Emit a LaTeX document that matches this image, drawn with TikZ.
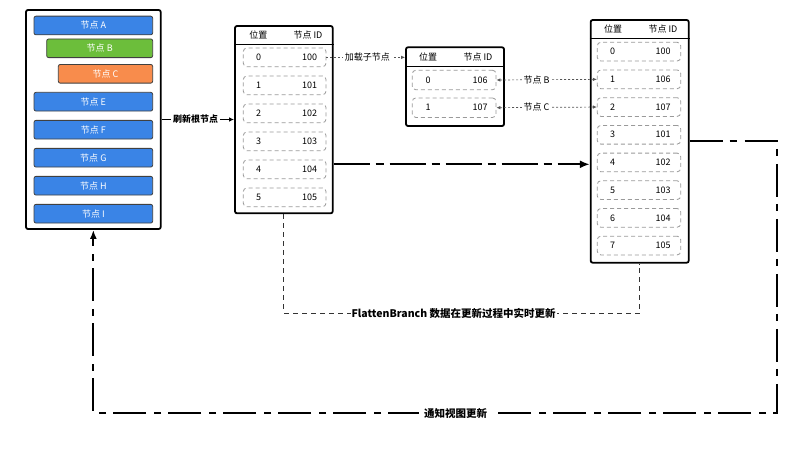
\documentclass[tikz,border=0pt]{standalone}
\usepackage{fontspec}
\setmainfont{Noto Sans CJK SC}
\usetikzlibrary{arrows.meta}
\definecolor{barblue}{HTML}{3A84E6}
\definecolor{bargreen}{HTML}{6CBE3B}
\definecolor{barorange}{HTML}{F88C4C}
\definecolor{rowgrey}{HTML}{9A9A9A}
\definecolor{linegrey}{HTML}{555555}
\begin{document}
\begin{tikzpicture}[x=1pt,y=-1pt,
  bar/.style={draw=black!75, line width=0.8pt, rounded corners=2pt, text=white,
    minimum height=18.7pt, inner sep=0pt, font=\fontsize{9}{10}\selectfont},
  holder/.style={draw=black, line width=1.8pt, rounded corners=2pt, fill=white, inner sep=0pt},
  tablebox/.style={draw=black, line width=1.8pt, rounded corners=2pt, fill=white, inner sep=0pt},
  hdrline/.style={draw=black, line width=1.4pt},
  hdrtxt/.style={inner sep=0pt, font=\fontsize{9}{10}\selectfont},
  rowbox/.style={draw=rowgrey, line width=0.8pt, dash pattern=on 4pt off 3pt,
    rounded corners=3.5pt, minimum height=18.7pt, inner sep=0pt},
  cell/.style={inner sep=0pt, font=\fontsize{9}{10}\selectfont},
  lbl/.style={fill=white, inner sep=2pt, font=\fontsize{9}{10}\selectfont},
  solidarrow/.style={draw=black, line width=1pt, -{Latex[length=5pt,width=4.5pt]}},
  dotarrow/.style={draw=linegrey, line width=0.7pt, dash pattern=on 2pt off 2pt,
    -{Latex[length=4pt,width=3.5pt]}},
  dotboth/.style={draw=linegrey, line width=0.7pt, dash pattern=on 2pt off 2pt,
    {Latex[length=4pt,width=3.5pt]}-{Latex[length=4pt,width=3.5pt]}},
  bigdash/.style={draw=black, line width=2pt, dash pattern=on 36pt off 6pt on 8pt off 6pt,
    -{Latex[length=10pt,width=8pt]}},
  flatline/.style={draw=black!80, line width=0.9pt, dash pattern=on 5pt off 4pt},
  notify/.style={draw=black, line width=1.8pt, dash pattern=on 33pt off 7pt on 7pt off 8pt,
    -{Latex[length=9pt,width=7pt]}}
]
\useasboundingbox (0,0) rectangle (809,452);

% left container with bars
\node[holder, minimum width=134.7pt, minimum height=219pt] (cont) at (93.35,119.5) {};
\node[bar, fill=barblue,   minimum width=118.7pt] (nA) at (93.35,25.5)  {节点 A};
\node[bar, fill=bargreen,  minimum width=106pt]   (nB) at (99.7,48.3)   {节点 B};
\node[bar, fill=barorange, minimum width=94.4pt]  (nC) at (105.5,73.8)  {节点 C};
\node[bar, fill=barblue,   minimum width=118.7pt] (nE) at (93.35,101.7) {节点 E};
\node[bar, fill=barblue,   minimum width=118.7pt] (nF) at (93.35,129.7) {节点 F};
\node[bar, fill=barblue,   minimum width=118.7pt] (nG) at (93.35,157.7) {节点 G};
\node[bar, fill=barblue,   minimum width=118.7pt] (nH) at (93.35,185.7) {节点 H};
\node[bar, fill=barblue,   minimum width=118.7pt] (nI) at (93.35,213.7) {节点 I};

% table 1
\node[tablebox, minimum width=97.7pt, minimum height=187.3pt] (t1) at (283.85,119.65) {};
\draw[hdrline] (t1.west |- 0,44.3) -- (t1.east |- 0,44.3);
\node[hdrtxt] (t1h1) at (258.3,35.2) {位置};
\node[hdrtxt] (t1h2) at (308,35.2) {节点 ID};
\foreach \i/\id in {0/100,1/101,2/102,3/103,4/104,5/105}{
  \node[rowbox, minimum width=82.7pt] (t1r\i) at (284.65,{57.35+28*\i}) {};
  \node[cell] (t1p\i) at ([xshift=-26pt]t1r\i.center) {\i};
  \node[cell] (t1v\i) at ([xshift=25pt]t1r\i.center) {\id};
}

% table 2
\node[tablebox, minimum width=98pt, minimum height=78.7pt] (t2) at (455,86.65) {};
\draw[hdrline] (t2.west |- 0,66.7) -- (t2.east |- 0,66.7);
\node[hdrtxt] (t2h1) at (428,57.2) {位置};
\node[hdrtxt] (t2h2) at (478,57.2) {节点 ID};
\foreach \i/\id in {0/106,1/107}{
  \node[rowbox, minimum width=83.7pt, minimum height=19.5pt] (t2r\i) at (454.15,{80+27.7*\i}) {};
  \node[cell] (t2p\i) at ([xshift=-26pt]t2r\i.center) {\i};
  \node[cell] (t2v\i) at ([xshift=26pt]t2r\i.center) {\id};
}

% table 3
\node[tablebox, minimum width=98pt, minimum height=242.7pt] (t3) at (639.7,141.35) {};
\draw[hdrline] (t3.west |- 0,38.3) -- (t3.east |- 0,38.3);
\node[hdrtxt] (t3h1) at (613,29.5) {位置};
\node[hdrtxt] (t3h2) at (663,29.5) {节点 ID};
\foreach \i/\id in {0/100,1/106,2/107,3/101,4/102,5/103,6/104,7/105}{
  \node[rowbox, minimum width=83.4pt] (t3r\i) at (639,{51.65+27.7*\i}) {};
  \node[cell] (t3p\i) at ([xshift=-26.5pt]t3r\i.center) {\i};
  \node[cell] (t3v\i) at ([xshift=24pt]t3r\i.center) {\id};
}

% connectors
\draw[solidarrow] (cont.east) -- node[lbl, pos=0.47, font=\fontsize{9}{10}\selectfont\bfseries] (lblrefresh) {刷新根节点} (cont.east -| t1.west);
\draw[dotarrow] (t1r0.east) -- node[lbl, pos=0.52] (lblload) {加载子节点} (t1r0.east -| t2.west);
\draw[dotboth] (t2r0.east) -- node[lbl, pos=0.4] (lblB) {节点 B} (t3r1.west);
\draw[dotboth] (t2r1.east) -- node[lbl, pos=0.4] (lblC) {节点 C} (t3r2.west);
\draw[bigdash] (t1.east |- 0,164.3) -- (t3.west |- 0,164.3);
\draw[flatline] (t1.south) -- (t1.south |- 0,313)
  -- node[lbl, pos=0.477, inner sep=1pt, font=\fontsize{10.5}{12}\selectfont\bfseries] (lblflat) {FlattenBranch 数据在更新过程中实时更新}
  (t3.south |- 0,313) -- (t3.south);
\coordinate (nc1) at (777,141.35);
\coordinate (nc2) at (777,413);
\draw[notify] (t3.east) -- (nc1) -- (nc2)
  -- node[lbl, pos=0.47, inner sep=5pt, font=\fontsize{10.5}{12}\selectfont\bfseries] (lblnotify) {通知视图更新}
  (cont.south |- nc2) -- (cont.south);
\end{tikzpicture}
\end{document}
